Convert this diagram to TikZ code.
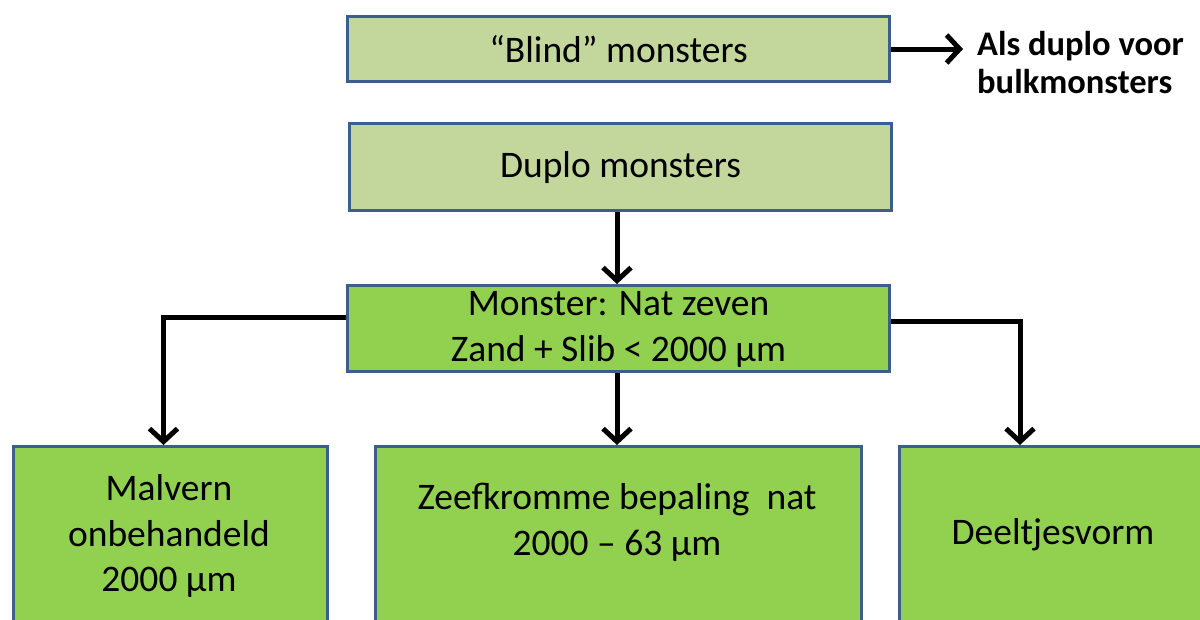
\documentclass[tikz,border=0pt]{standalone}
\usepackage{fontspec}
\setmainfont{Carlito}
\usetikzlibrary{arrows.meta}
\definecolor{boxline}{HTML}{3B5E8C}
\definecolor{palegreen}{HTML}{C3D69B}
\definecolor{leafgreen}{HTML}{92D050}
\tikzset{
  box/.style={draw=boxline, line width=3pt, rectangle, inner sep=0pt, anchor=north west},
  pale/.style={box, fill=palegreen},
  leaf/.style={box, fill=leafgreen},
  txt/.style={font=\fontsize{37.5}{45.7}\selectfont, align=center, inner sep=0pt},
  link/.style={line width=5pt, -{Straight Barb[length=13pt, width=28pt, line width=5pt]}},
}
\begin{document}
\begin{tikzpicture}[x=1pt, y=-1pt]
\useasboundingbox (0,0) rectangle (1200,619);
\clip (0,0) rectangle (1200,619);

% top row
\node[pale, minimum width=542pt, minimum height=65pt] (blind) at (346,15) {};
\node[txt] (blindtxt) at (blind.center) {“Blind” monsters};
\node[font=\fontsize{34.5}{38}\selectfont\bfseries, align=left, anchor=west, inner xsep=14pt, inner ysep=0pt] (als) at (963,63) {Als duplo voor\\bulkmonsters};

\node[pale, minimum width=542pt, minimum height=87pt] (duplo) at (348,122) {};
\node[txt] (duplotxt) at (duplo.center) {Duplo monsters};

% sieving step
\node[leaf, minimum width=542pt, minimum height=86pt] (monster) at (346,284) {};
\node[txt] (monstertxt) at ([yshift=-1pt]monster.center) {Monster: Nat zeven\\Zand + Slib < 2000 µm};

% bottom row, running off the page
\node[leaf, minimum width=314pt, minimum height=220pt] (malvern) at (12,445) {};
\node[txt] (malverntxt) at (169,536) {Malvern\\onbehandeld\\2000 µm};

\node[leaf, minimum width=486pt, minimum height=220pt] (zeef) at (374,445) {};
\node[txt] (zeeftxt) at (617,522) {Zeefkromme bepaling\ \ nat\\2000 – 63 µm};

\node[leaf, minimum width=320pt, minimum height=220pt] (vorm) at (898,445) {};
\node[txt] (vormtxt) at (1053,535) {Deeltjesvorm};

% connectors
\draw[link] (blind.east) -- (blind.east -| als.west);
\draw[link] (duplo.south -| 617,0) -- (monster.north -| 617,0);
\draw[link] (monster.west |- 0,317) -| ([xshift=-7pt]malvern.north);
\draw[link] (monster.south -| 617,0) -- (zeef.north -| 617,0);
\draw[link] (monster.east |- 0,321) -| (1020,0 |- vorm.north);
\end{tikzpicture}
\end{document}
